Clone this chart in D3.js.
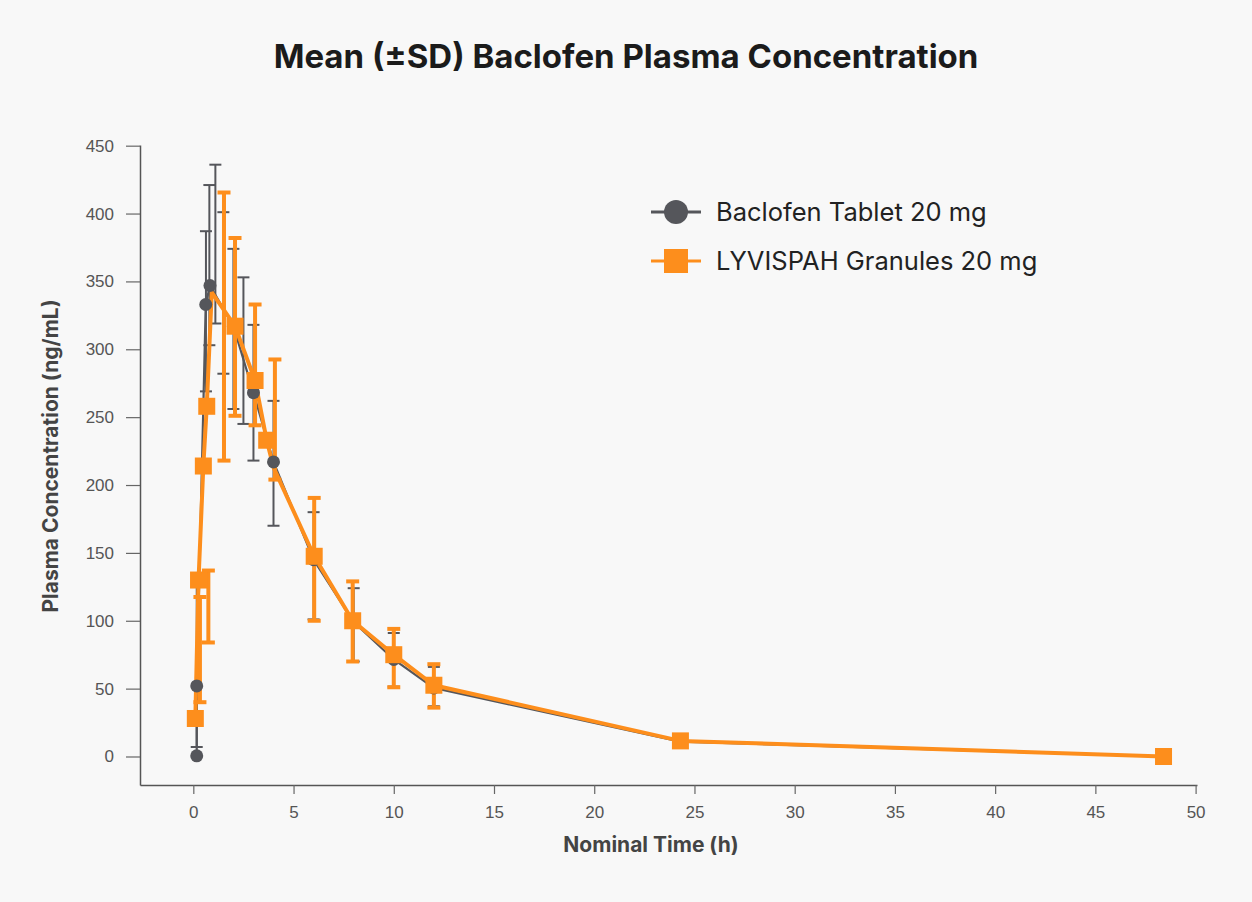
<!DOCTYPE html>
<html>
<head>
<meta charset="utf-8">
<script src="https://cdn.jsdelivr.net/npm/d3@7"></script>
<style>
  html, body { margin: 0; padding: 0; background: #f8f8f8; }
  #chart { width: 1252px; height: 902px; }
  .tick text { font-family: "Liberation Sans", Arial, sans-serif; font-size: 17px; fill: #555; }
  .axis-title { font-family: "Inter", "Roboto", sans-serif; font-weight: 700; fill: #444; }
  .legend-label { font-family: "Inter", "Roboto", sans-serif; font-size: 25.5px; fill: #222; }
</style>
</head>
<body>
<div id="chart"></div>
<script>
// series: Baclofen Tablet 20 mg (grey)
const tabletTime = [0.17, 0.17, 0.62, 0.83, 2.0, 3.0, 4.0, 6, 8, 10, 12, 24.3, 48.4];
const tabletMean = [0.5, 52, 333, 347, 317, 268, 217, 145, 99, 71.5, 50.5, 11, 0];
const tabletErrTime = [0.17, 0.63, 0.8, 1.1, 1.5, 2, 2.5, 3, 4, 6, 8, 10, 12];
const tabletErrLow = [7, 269, 303, 319, 282, 256, 245, 218, 170, 101, 70, 51.5, 37];
const tabletErrHigh = [125, 387, 421, 436, 401, 374, 353, 318, 262, 180, 124, 91, 66];

// series: LYVISPAH Granules 20 mg (orange)
const granuleTime = [0.1, 0.26, 0.5, 0.67, 0.92, 2.08, 3.08, 3.66, 4.0, 6.03, 7.95, 10, 12, 24.3, 48.4];
const granuleMean = [28, 130, 214, 258, 342, 317, 277, 233, 213, 147.5, 100, 75, 52.5, 11.5, 0];
const granuleMarker = [1, 1, 1, 1, 0, 1, 1, 1, 0, 1, 1, 1, 1, 1, 1];
const granuleErrTime = [0.33, 0.75, 1.53, 2.08, 3.08, 4.07, 6.03, 7.95, 10, 12];
const granuleErrLow = [40, 84, 218, 251, 244, 204, 100, 70, 51, 36];
const granuleErrHigh = [117.5, 137, 415.5, 382, 333, 292.5, 190.5, 129, 94, 68];

const xTicks = [0, 5, 10, 15, 20, 25, 30, 35, 40, 45, 50];
const yTicks = [0, 50, 100, 150, 200, 250, 300, 350, 400, 450];
const legendLabels = ['Baclofen Tablet 20 mg', 'LYVISPAH Granules 20 mg'];

const GREY = '#55565b';
const ORANGE = '#fd8e1c';

const Chart = {
  width: 1252,
  height: 902,
  margin: { top: 145, right: 55, bottom: 117, left: 140 },

  render() {
    const { width, height, margin } = this;
    const svg = d3.select('#chart').append('svg')
      .attr('width', width).attr('height', height);

    svg.append('rect').attr('width', width).attr('height', height).attr('fill', '#f8f8f8');

    svg.append('text')
      .attr('x', 626).attr('y', 68)
      .attr('text-anchor', 'middle')
      .style('font-family', '"Inter", "Roboto", sans-serif')
      .style('font-weight', 700).style('font-size', '33px').style('fill', '#1b1b1b')
      .text('Mean (±SD) Baclofen Plasma Concentration');

    const x = d3.scaleLinear().domain([-2.66, 50.07]).range([margin.left, width - margin.right]);
    const y = d3.scaleLinear().domain([-21, 450.5]).range([height - margin.bottom, margin.top]);

    const xAxis = svg.append('g')
      .attr('transform', 'translate(0,' + (height - margin.bottom) + ')')
      .call(d3.axisBottom(x).tickValues(xTicks).tickSize(9).tickSizeOuter(0).tickPadding(12));
    const yAxis = svg.append('g')
      .attr('transform', 'translate(' + margin.left + ',0)')
      .call(d3.axisLeft(y).tickValues(yTicks).tickSize(14).tickSizeOuter(0).tickPadding(12));
    [xAxis, yAxis].forEach((g) => {
      g.select('.domain').attr('stroke', '#555').attr('stroke-width', 1.5);
      g.selectAll('.tick line').attr('stroke', '#666').attr('stroke-width', 1.2);
    });

    svg.append('text').attr('class', 'axis-title')
      .attr('x', 651).attr('y', 852).attr('text-anchor', 'middle')
      .style('font-size', '21px').text('Nominal Time (h)');
    svg.append('text').attr('class', 'axis-title')
      .attr('transform', 'translate(58,456) rotate(-90)').attr('text-anchor', 'middle')
      .style('font-size', '21px').text('Plasma Concentration (ng/mL)');

    const tablet = tabletTime.map((t, i) => ({ t, v: tabletMean[i] }));
    const granule = granuleTime.map((t, i) => ({ t, v: granuleMean[i], m: granuleMarker[i] }));
    const tabletErr = tabletErrTime.map((t, i) => ({ t, lo: tabletErrLow[i], hi: tabletErrHigh[i] }));
    const granuleErr = granuleErrTime.map((t, i) => ({ t, lo: granuleErrLow[i], hi: granuleErrHigh[i] }));

    const line = d3.line().x((d) => x(d.t)).y((d) => y(d.v));

    this.errorBars(svg, tabletErr, x, y, GREY, 2, 12, 2);
    svg.append('path').datum(tablet).attr('d', line)
      .attr('fill', 'none').attr('stroke', GREY).attr('stroke-width', 2.2);

    this.errorBars(svg, granuleErr, x, y, ORANGE, 4, 13, 4);
    svg.append('path').datum(granule).attr('d', line)
      .attr('fill', 'none').attr('stroke', ORANGE).attr('stroke-width', 4).attr('stroke-linejoin', 'round');

    svg.selectAll('.tablet-dot').data(tablet).enter().append('circle')
      .attr('class', 'tablet-dot')
      .attr('cx', (d) => x(d.t)).attr('cy', (d) => y(d.v)).attr('r', 6.5)
      .attr('fill', GREY);

    svg.selectAll('.granule-dot').data(granule.filter((d) => d.m)).enter().append('rect')
      .attr('class', 'granule-dot')
      .attr('x', (d) => x(d.t) - 8.5).attr('y', (d) => y(d.v) - 8.5)
      .attr('width', 17).attr('height', 17)
      .attr('fill', ORANGE);

    // legend
    const legend = svg.append('g').attr('transform', 'translate(651,212)');
    legendLabels.forEach((label, i) => {
      const g = legend.append('g').attr('transform', 'translate(0,' + i * 49 + ')');
      const color = i === 0 ? GREY : ORANGE;
      g.append('line').attr('x1', 0).attr('x2', 50).attr('stroke', color).attr('stroke-width', 3);
      if (i === 0) {
        g.append('circle').attr('cx', 25).attr('r', 12).attr('fill', color);
      } else {
        g.append('rect').attr('x', 13).attr('y', -12).attr('width', 24).attr('height', 24).attr('fill', color);
      }
      g.append('text').attr('class', 'legend-label').attr('x', 65).attr('dy', '0.35em').text(label);
    });
  },

  errorBars(svg, rows, x, y, color, width, capWidth, capStroke) {
    const g = svg.append('g');
    rows.forEach((d) => {
      const cx = x(d.t);
      g.append('line').attr('x1', cx).attr('x2', cx).attr('y1', y(d.lo)).attr('y2', y(d.hi))
        .attr('stroke', color).attr('stroke-width', width);
      [d.lo, d.hi].forEach((v) => {
        g.append('line').attr('x1', cx - capWidth / 2).attr('x2', cx + capWidth / 2)
          .attr('y1', y(v)).attr('y2', y(v))
          .attr('stroke', color).attr('stroke-width', capStroke);
      });
    });
  }
};

Chart.render();
</script>
</body>
</html>
